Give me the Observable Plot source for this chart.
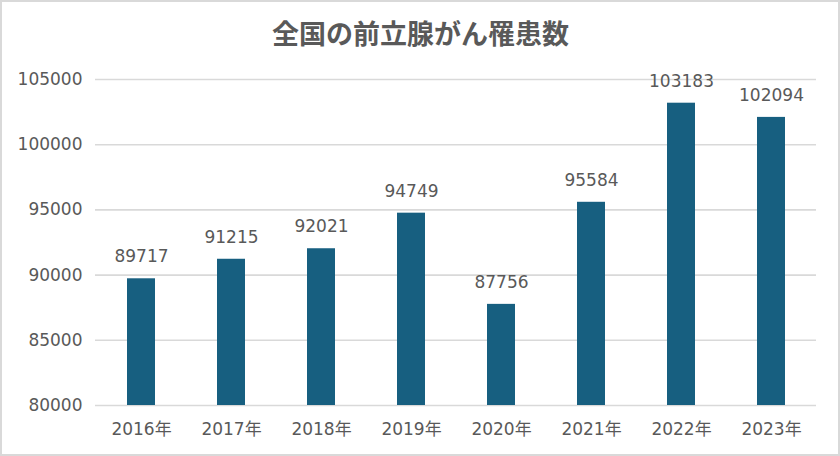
<!DOCTYPE html>
<html><head><meta charset="utf-8">
<script src="https://cdn.jsdelivr.net/npm/d3@7"></script>
<script src="https://cdn.jsdelivr.net/npm/@observablehq/plot@0.6"></script>
<style>
body{margin:0;background:#fff;}
#wrap{position:relative;width:840px;height:456px;overflow:hidden;}
#border{position:absolute;left:0;top:0;width:840px;height:456px;box-sizing:border-box;border:2px solid #d9d9d9;pointer-events:none;}
</style></head>
<body><div id="wrap"><div id="chart"></div><div id="border"></div></div>
<script>
const title = "全国の前立腺がん罹患数";
const years = ["2016年","2017年","2018年","2019年","2020年","2021年","2022年","2023年"];
const counts = [89717, 91215, 92021, 94749, 87756, 95584, 103183, 102094];
const yTicks = [80000, 85000, 90000, 95000, 100000, 105000];

const data = years.map((y, i) => ({year: y, count: counts[i]}));
const font = "DejaVu Sans, Noto Sans CJK JP, sans-serif";
const txt = "#595959";
const fs = 17;

const chart = Plot.plot({
  width: 840, height: 456,
  marginLeft: 95, marginRight: 24, marginTop: 79, marginBottom: 51,
  style: {fontFamily: font, fontSize: fs + "px", color: txt, background: "#fff"},
  x: {domain: years, paddingInner: 0.69, paddingOuter: 0.345, label: null},
  y: {domain: [80000, 105000], label: null},
  marks: [
    Plot.gridY(yTicks, {stroke: "#d9d9d9", strokeOpacity: 1, strokeWidth: 1.6}),
    Plot.barY(data, {x: "year", y1: 80000, y2: "count", fill: "#175F80"}),
    Plot.axisY(yTicks, {tickSize: 0, tickPadding: 13, tickFormat: d => String(d), fontSize: fs, fontFamily: font, fill: txt, label: null}),
    Plot.axisX({tickSize: 0, tickPadding: 17, fontSize: fs, fontFamily: font, fill: txt, label: null}),
    Plot.text(data, {x: "year", y: "count", text: d => String(d.count), dy: -22, fill: txt, fontSize: fs, fontFamily: font}),
    Plot.text([title], {frameAnchor: "top", lineAnchor: "middle", dx: -35.5, dy: -44, fontSize: 27, fontWeight: "bold", fill: "#595959", fontFamily: "Noto Sans CJK JP, sans-serif"})
  ]
});
document.getElementById("chart").appendChild(chart);
</script>
</body></html>
